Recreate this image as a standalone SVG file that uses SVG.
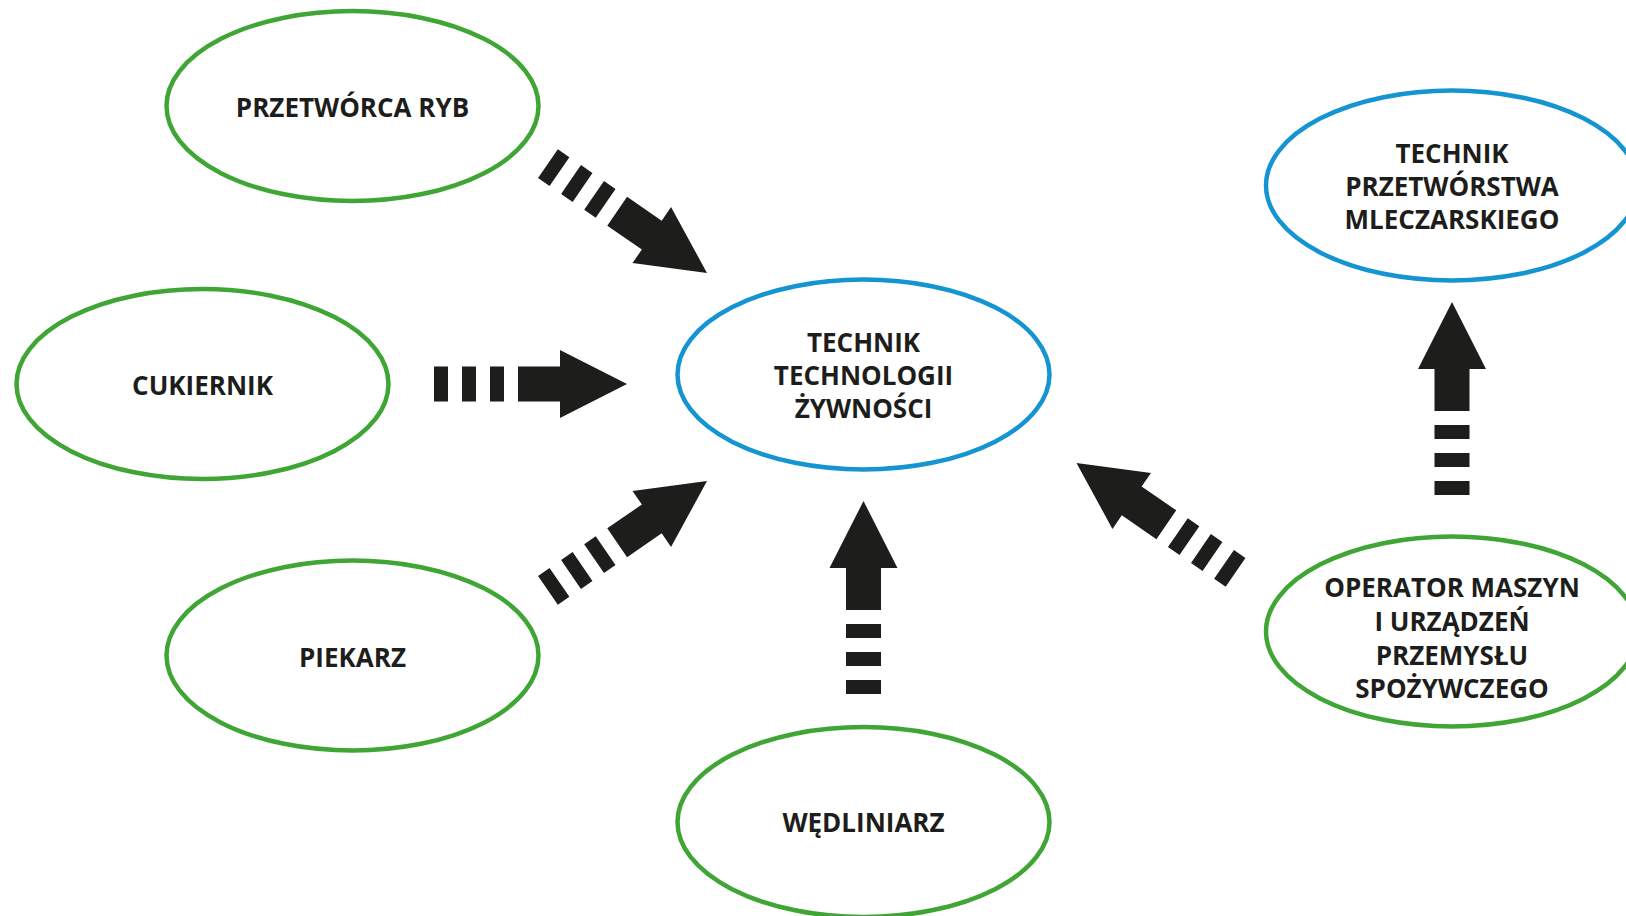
<svg xmlns="http://www.w3.org/2000/svg" width="1626" height="916" viewBox="0 0 1626 916">
<style>
.g{fill:#fff;stroke:#3fa535;stroke-width:4.5}
.b{fill:#fff;stroke:#1594d2;stroke-width:4.5}
.t{font-family:"Open Sans","Liberation Sans",sans-serif;font-weight:700;font-size:26px;fill:#1d1d1b;text-anchor:middle}
.a{fill:#1d1d1b}
</style>
<defs>
<g id="arrow">
<path class="a" d="M0,0 L-67,-34 L-67,-17.5 L-109,-17.5 L-109,17.5 L-67,17.5 L-67,34 Z"/>
<rect class="a" x="-193" y="-17.5" width="14" height="35"/>
<rect class="a" x="-165" y="-17.5" width="14" height="35"/>
<rect class="a" x="-137" y="-17.5" width="14" height="35"/>
</g>
</defs>
<rect width="1626" height="916" fill="#fff"/>
<g id="node-przetworca">
<ellipse class="g" cx="352.5" cy="106" rx="186" ry="95"/>
<text class="t" x="352.5" y="117">PRZETWÓRCA RYB</text>
</g>
<g id="node-cukiernik">
<ellipse class="g" cx="202.5" cy="384" rx="186" ry="95"/>
<text class="t" x="202.5" y="395">CUKIERNIK</text>
</g>
<g id="node-piekarz">
<ellipse class="g" cx="352.5" cy="655.5" rx="186" ry="95"/>
<text class="t" x="352.5" y="667">PIEKARZ</text>
</g>
<g id="node-wedliniarz">
<ellipse class="g" cx="863.5" cy="822" rx="186" ry="95"/>
<text class="t" x="863.5" y="832">WĘDLINIARZ</text>
</g>
<g id="node-center">
<ellipse class="b" cx="863.5" cy="374.5" rx="186" ry="95"/>
<text class="t" x="863.5" y="352">TECHNIK</text>
<text class="t" x="863.5" y="385">TECHNOLOGII</text>
<text class="t" x="863.5" y="418">ŻYWNOŚCI</text>
</g>
<g id="node-mleczarski">
<ellipse class="b" cx="1452" cy="185.5" rx="186" ry="95"/>
<text class="t" x="1452" y="163">TECHNIK</text>
<text class="t" x="1452" y="196">PRZETWÓRSTWA</text>
<text class="t" x="1452" y="229">MLECZARSKIEGO</text>
</g>
<g id="node-operator">
<ellipse class="g" cx="1452" cy="631.5" rx="186" ry="95"/>
<text class="t" x="1452" y="597">OPERATOR MASZYN</text>
<text class="t" x="1452" y="631">I URZĄDZEŃ</text>
<text class="t" x="1452" y="665">PRZEMYSŁU</text>
<text class="t" x="1452" y="698">SPOŻYWCZEGO</text>
</g>
<g id="connectors">
<use href="#arrow" transform="translate(707,273) rotate(34.5)"/>
<use href="#arrow" transform="translate(627,384)"/>
<use href="#arrow" transform="translate(707,481) rotate(-34.5)"/>
<use href="#arrow" transform="translate(863.5,501) rotate(-90)"/>
<use href="#arrow" transform="translate(1076.5,463) rotate(-145.5)"/>
<use href="#arrow" transform="translate(1452,302) rotate(-90)"/>
</g>
</svg>
